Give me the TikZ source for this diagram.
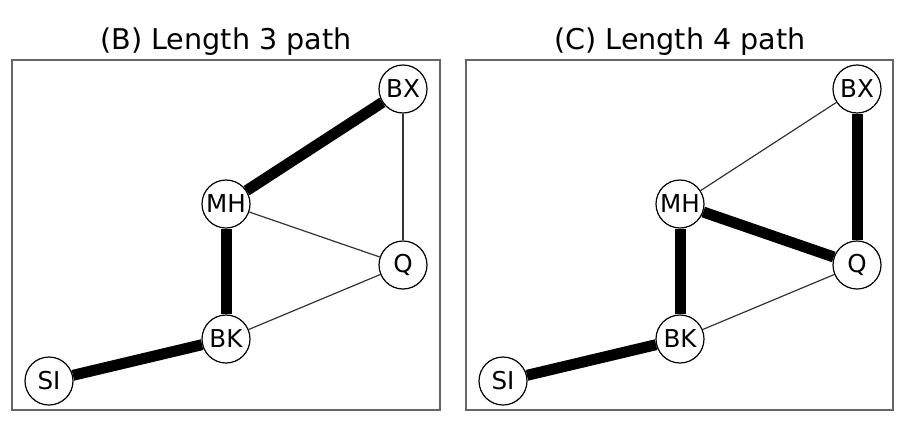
\documentclass[tikz,border=0pt]{standalone}
\usepackage{fontspec}
\setmainfont{DejaVu Sans}
\usetikzlibrary{graphs, shapes}
\tikzset{
	every node/.style={line width=0.6pt,fill=white,shape=circle,draw=black,minimum size=24pt,inner sep=0pt,font=\fontsize{12.3}{13}\selectfont},
	every edge/.style={line width=0.6pt,draw=black!80},
	path-edge/.style={line width=5.5pt,draw=black},
	frame/.style={line width=0.7pt,draw=black!60},
	title/.style={draw=none,fill=none,shape=rectangle,font=\fontsize{14.3}{15}\selectfont},
}
\begin{document}
\begin{tikzpicture}[x=0.5pt,y=-0.5pt]
						\useasboundingbox (0,0) rectangle (909,434);
						% (B) length 3 path
						\draw[frame] (12,60) rectangle (440,410);
						\node[title] (TB) at (226,42) {(B) Length 3 path};
						\node (BXb) at (403,89) {BX};
						\node (MHb) at (226,204) {MH};
						\node (Qb) at (403,265) {Q};
						\node (BKb) at (226,339) {BK};
						\node (SIb) at (49,381) {SI};
						
						\path [-] (BXb) edge[path-edge] (MHb);
						\path [-] (MHb) edge[path-edge] (BKb);
						\path [-] (BKb) edge[path-edge] (SIb);
						\path [-] (BXb) edge (Qb);
						\path [-] (MHb) edge (Qb);
						\path [-] (BKb) edge (Qb);
						
						% (C) length 4 path
						\draw[frame] (466,60) rectangle (893,410);
						\node[title] (TC) at (680,42) {(C) Length 4 path};
						\node (BXc) at (857,89) {BX};
						\node (MHc) at (680,204) {MH};
						\node (Qc) at (857,265) {Q};
						\node (BKc) at (680,339) {BK};
						\node (SIc) at (503,381) {SI};
						
						\path [-] (BXc) edge[path-edge] (Qc);
						\path [-] (Qc) edge[path-edge] (MHc);
						\path [-] (MHc) edge[path-edge] (BKc);
						\path [-] (BKc) edge[path-edge] (SIc);
						\path [-] (BXc) edge (MHc);
						\path [-] (BKc) edge (Qc);
					\end{tikzpicture}
\end{document}
